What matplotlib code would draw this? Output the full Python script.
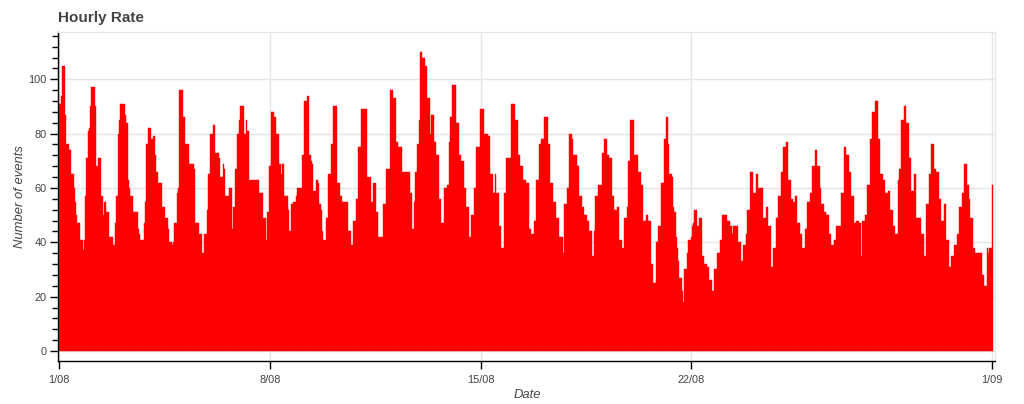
import matplotlib
matplotlib.use("Agg")
import matplotlib.pyplot as plt
import numpy as np
import pandas as pd
from matplotlib.ticker import MultipleLocator, FixedLocator

# hourly counts, one list per day (hours 00..23)
aug01 = [91, 91, 94, 105, 105, 87, 76, 76, 74, 74, 65, 65, 60, 55, 50, 47, 47, 41, 41, 37, 41, 57, 71, 81]
aug02 = [82, 90, 97, 97, 97, 90, 68, 71, 71, 71, 57, 50, 55, 55, 51, 51, 42, 42, 42, 39, 39, 47, 57, 80]
aug03 = [85, 91, 91, 91, 91, 87, 84, 63, 60, 57, 57, 51, 51, 51, 51, 45, 43, 41, 41, 41, 47, 55, 76, 82]
aug04 = [82, 82, 78, 79, 79, 72, 66, 62, 62, 62, 53, 53, 53, 49, 49, 45, 40, 40, 39, 40, 47, 47, 58, 60]
aug05 = [96, 96, 96, 86, 86, 76, 76, 76, 69, 69, 69, 69, 67, 47, 47, 47, 43, 43, 36, 36, 43, 43, 52, 65]
aug06 = [65, 80, 80, 83, 83, 73, 73, 73, 71, 64, 64, 69, 67, 57, 57, 57, 60, 60, 45, 53, 53, 67, 80, 80]
aug07 = [85, 90, 90, 90, 80, 85, 81, 81, 63, 63, 63, 63, 63, 63, 63, 63, 58, 58, 58, 49, 49, 41, 51, 51]
aug08 = [68, 88, 88, 88, 86, 80, 80, 80, 69, 65, 69, 69, 57, 57, 57, 52, 44, 54, 54, 55, 55, 57, 60, 60]
aug09 = [60, 60, 72, 72, 92, 92, 94, 94, 72, 70, 69, 59, 59, 63, 63, 62, 54, 52, 44, 41, 41, 49, 49, 65]
aug10 = [65, 76, 76, 90, 90, 90, 62, 62, 57, 57, 55, 55, 55, 55, 55, 44, 44, 39, 39, 48, 48, 56, 56, 75]
aug11 = [75, 89, 89, 89, 89, 89, 64, 64, 64, 55, 55, 62, 62, 51, 51, 42, 42, 42, 42, 54, 54, 67, 67, 67]
aug12 = [96, 96, 96, 93, 93, 77, 77, 75, 75, 75, 66, 66, 66, 66, 66, 66, 58, 58, 45, 55, 66, 66, 76, 85]
aug13 = [110, 110, 108, 108, 105, 105, 93, 93, 80, 87, 87, 77, 77, 72, 72, 56, 56, 47, 47, 60, 60, 60, 61, 77]
aug14 = [86, 86, 98, 98, 98, 84, 84, 72, 72, 70, 70, 60, 60, 53, 53, 42, 42, 50, 50, 60, 60, 75, 75, 75]
aug15 = [89, 89, 89, 80, 80, 80, 79, 79, 65, 65, 58, 58, 65, 58, 58, 46, 46, 38, 38, 58, 58, 71, 71, 71]
aug16 = [71, 91, 91, 91, 85, 85, 72, 72, 68, 68, 63, 63, 63, 62, 62, 45, 45, 43, 43, 48, 48, 63, 63, 76]
aug17 = [76, 78, 78, 86, 86, 86, 76, 76, 62, 62, 55, 55, 55, 49, 49, 42, 42, 42, 36, 54, 54, 60, 60, 80]
aug18 = [80, 78, 72, 72, 72, 68, 68, 57, 57, 53, 53, 50, 50, 48, 48, 44, 44, 35, 35, 44, 57, 57, 61, 61]
aug19 = [61, 73, 73, 78, 78, 72, 72, 71, 71, 57, 57, 52, 52, 53, 53, 41, 41, 38, 38, 49, 49, 53, 70, 70]
aug20 = [85, 85, 85, 72, 72, 72, 66, 66, 61, 61, 48, 48, 50, 50, 48, 48, 32, 32, 25, 25, 40, 40, 46, 46]
aug21 = [62, 62, 62, 78, 86, 86, 76, 65, 65, 64, 53, 51, 42, 38, 33, 27, 27, 22, 18, 30, 30, 36, 41, 41]
aug22 = [42, 46, 47, 52, 52, 46, 46, 49, 49, 35, 35, 32, 32, 31, 31, 26, 26, 22, 22, 30, 30, 36, 36, 41]
aug23 = [41, 50, 50, 50, 50, 48, 48, 46, 46, 43, 46, 46, 46, 46, 40, 40, 33, 33, 39, 39, 43, 52, 52, 66]
aug24 = [66, 66, 58, 58, 65, 65, 60, 60, 60, 60, 49, 49, 53, 53, 46, 46, 31, 31, 38, 38, 49, 49, 57, 57]
aug25 = [66, 66, 75, 75, 77, 77, 63, 63, 56, 56, 55, 57, 57, 47, 47, 43, 43, 38, 38, 45, 45, 55, 55, 58]
aug26 = [58, 68, 68, 74, 74, 68, 68, 60, 54, 54, 51, 51, 50, 50, 43, 43, 39, 39, 41, 41, 46, 46, 46, 46]
aug27 = [58, 58, 75, 75, 72, 72, 66, 66, 57, 57, 47, 47, 48, 48, 47, 47, 35, 48, 48, 50, 50, 61, 61, 78]
aug28 = [78, 88, 88, 92, 92, 78, 78, 65, 65, 63, 63, 58, 58, 59, 59, 52, 52, 46, 46, 43, 43, 63, 67, 67]
aug29 = [85, 85, 90, 90, 84, 84, 71, 71, 59, 59, 65, 65, 49, 49, 49, 49, 43, 43, 35, 35, 54, 54, 65, 65]
aug30 = [76, 76, 67, 67, 66, 66, 56, 56, 48, 48, 54, 54, 41, 41, 31, 31, 35, 35, 39, 39, 43, 43, 53, 53]
aug31 = [58, 58, 69, 69, 61, 61, 56, 49, 49, 38, 38, 36, 36, 36, 36, 36, 28, 28, 24, 24, 38, 36, 38, 38]
sep01 = [61]

days = [aug01, aug02, aug03, aug04, aug05, aug06, aug07, aug08, aug09, aug10,
        aug11, aug12, aug13, aug14, aug15, aug16, aug17, aug18, aug19, aug20,
        aug21, aug22, aug23, aug24, aug25, aug26, aug27, aug28, aug29, aug30,
        aug31, sep01]
counts = [v for d in days for v in d]
times = pd.date_range("2017-08-01 00:00", periods=len(counts), freq="h")

tick_dates = ["2017-08-01", "2017-08-08", "2017-08-15", "2017-08-22", "2017-09-01"]
tick_labels = ["1/08", "8/08", "15/08", "22/08", "1/09"]

fig = plt.figure(figsize=(10.24, 4.04), dpi=100)
L, R, T, B = 58, 995, 32, 361
ax = fig.add_axes([L / 1024, 1 - B / 404, (R - L) / 1024, (B - T) / 404])

ax.bar(times, counts, width=1 / 24, color="#ff0000", edgecolor="#ff0000",
       linewidth=0.3, align="center", zorder=2)

t0 = pd.Timestamp("2017-08-01")
ax.set_xlim(t0 - pd.Timedelta(hours=1.04), t0 + pd.Timedelta(hours=746.2))
ax.set_ylim(-3.68, 117.4)

ax.set_xticks(pd.to_datetime(tick_dates))
ax.set_xticklabels(tick_labels)
ax.yaxis.set_major_locator(MultipleLocator(20))
ax.yaxis.set_minor_locator(FixedLocator(list(range(0, 117, 4))))

lab = "#444444"
ax.tick_params(axis="both", which="major", direction="out", length=6, width=1,
               color="black", labelcolor=lab, labelsize=7.9)
ax.tick_params(axis="y", which="minor", direction="out", length=4, width=1, color="black")
ax.tick_params(axis="x", which="major", pad=4)
ax.tick_params(axis="y", which="major", pad=2)
for t in ax.get_xticklabels() + ax.get_yticklabels():
    t.set_fontfamily("Liberation Sans")

ax.grid(True, which="major", color="#e5e5e5", linewidth=1, zorder=0)
ax.set_axisbelow(True)
for s in ["top", "right"]:
    ax.spines[s].set_color("#e5e5e5")
for s in ["left", "bottom"]:
    ax.spines[s].set_color("black")
    ax.spines[s].set_linewidth(1)

ax.set_ylabel("Number of events", fontsize=9.4, style="italic", color=lab,
              family="Liberation Sans")
ax.set_xlabel("Date", fontsize=9.4, style="italic", color=lab, family="Liberation Sans")
ax.yaxis.set_label_coords((20 - L) / (R - L), 0.5)
ax.xaxis.set_label_coords((527 - L) / (R - L), (B - 395) / (B - T))
ax.xaxis.label.set_va("center")
ax.yaxis.label.set_va("center")

fig.text(L / 1024, 1 - 18 / 404, "Hourly Rate", fontsize=11, fontweight="bold",
         color=lab, family="Liberation Sans", ha="left", va="center")

fig.savefig("out.png", dpi=100)
